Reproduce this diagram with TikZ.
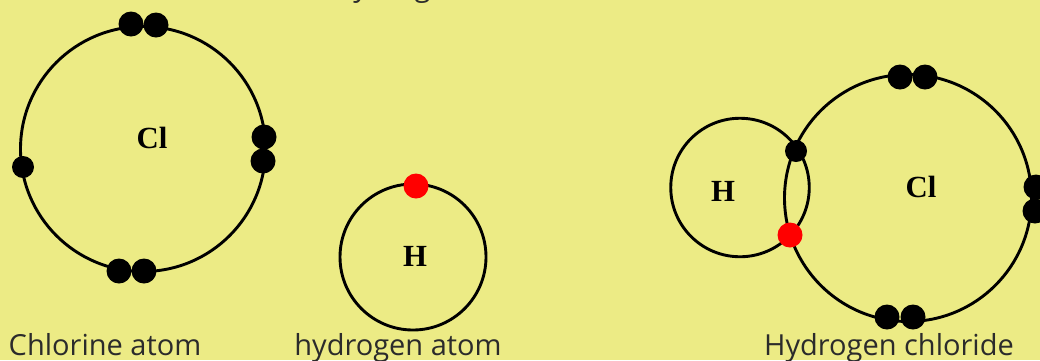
\documentclass[tikz,border=0pt]{standalone}
\usepackage{fontspec}
\setmainfont{Open Sans}
\newfontfamily\symbolfont{Liberation Serif}
\definecolor{panelyellow}{HTML}{ECEB85}
\definecolor{captiongray}{HTML}{2B2B2B}
\begin{document}
\begin{tikzpicture}[
        x=0.02cm, y=-0.02cm,
        every node/.style={inner sep=0pt, outer sep=0pt},
        shell/.style={circle, draw=black, line width=0.058cm, minimum size=#1*0.02cm},
        electron/.style={circle, fill=black, minimum size=#1*0.02cm},
        shared/.style={circle, fill=red, minimum size=#1*0.02cm},
        symbol/.style={font=\symbolfont\bfseries\fontsize{17.5}{20}\selectfont, text=black},
        caption/.style={font=\fontsize{16.5}{18}\selectfont, text=captiongray, anchor=base}
        ]

        % Page size and background
        \useasboundingbox (0,0) rectangle (1040,360);
        \fill[panelyellow] (0,0) rectangle (1040,360);

        % Chlorine atom
        \node[shell=245] (clring) at (143,149) {};
        \node[symbol] (clsym) at (152,138) {Cl};
        \node[electron=25] (cla) at (131,24) {};
        \node[electron=25] (clb) at (156,25) {};
        \node[electron=25] (clc) at (264,137) {};
        \node[electron=25] (cld) at (263,161) {};
        \node[electron=22] (cle) at (23,167) {};
        \node[electron=25] (clf) at (119,271) {};
        \node[electron=25] (clg) at (144,271) {};

        % Hydrogen atom
        \node[shell=146] (hring) at (413,257) {};
        \node[symbol] (hsym) at (415,256) {H};
        \node[shared=25] (hdot) at (416,186) {};

        % Hydrogen chloride
        \node[shell=138.5] (bondh) at (740,187.5) {};
        \node[shell=247] (bondcl) at (908,198) {};
        \node[symbol] (bondhsym) at (723,191) {H};
        \node[symbol] (bondclsym) at (921,187) {Cl};
        \node[electron=22] (bonda) at (796,151) {};
        \node[shared=25] (bondb) at (790,235) {};
        \node[electron=25] (bondc) at (900,77) {};
        \node[electron=25] (bondd) at (925,77) {};
        \node[electron=25] (bonde) at (1036,187) {};
        \node[electron=25] (bondf) at (1035,211) {};
        \node[electron=25] (bondg) at (887,317) {};
        \node[electron=25] (bondh2) at (913,317) {};

        % Captions
        \node[caption] (captop) at (400,-4) {hydrogen};
        \node[caption] (capcl) at (105,355) {Chlorine atom};
        \node[caption] (caph) at (398,355) {hydrogen atom};
        \node[caption] (caphcl) at (889,355) {Hydrogen chloride};

    \end{tikzpicture}
\end{document}
